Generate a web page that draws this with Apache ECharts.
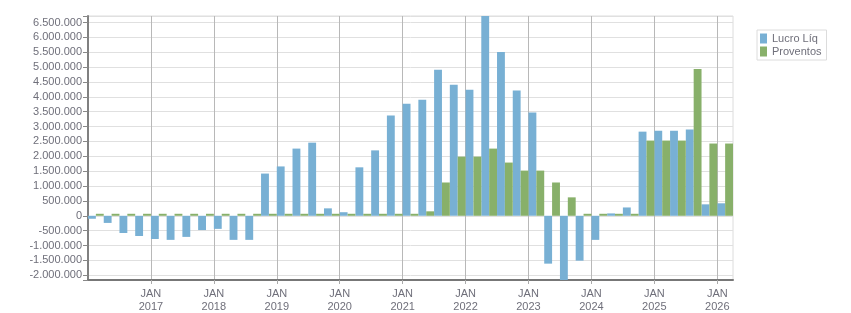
<!DOCTYPE html>
<html>
<head>
<meta charset="utf-8">
<title></title>
    <style>
        * {
            margin: 0;
            padding: 0;
        }
        #main {
            width: 851px;
            height: 313px;
        }
    </style>
</head>
<body>
<div id="main"></div>
<script src="https://cdn.jsdelivr.net/npm/echarts@6/dist/echarts.min.js"></script>
<script>
    // trimestres 2016 T1 .. 2026 T1
    var quarters = [
        '2016-01', '2016-04', '2016-07', '2016-10',
        '2017-01', '2017-04', '2017-07', '2017-10',
        '2018-01', '2018-04', '2018-07', '2018-10',
        '2019-01', '2019-04', '2019-07', '2019-10',
        '2020-01', '2020-04', '2020-07', '2020-10',
        '2021-01', '2021-04', '2021-07', '2021-10',
        '2022-01', '2022-04', '2022-07', '2022-10',
        '2023-01', '2023-04', '2023-07', '2023-10',
        '2024-01', '2024-04', '2024-07', '2024-10',
        '2025-01', '2025-04', '2025-07', '2025-10',
        '2026-01'
    ];
    var lucroLiq = [
        -100000, -240000, -580000, -680000,
        -780000, -810000, -710000, -480000,
        -440000, -810000, -810000, 1420000,
        1660000, 2260000, 2460000, 250000,
        120000, 1630000, 2200000, 3370000,
        3770000, 3900000, 4910000, 4410000,
        4240000, 6720000, 5510000, 4210000,
        3470000, -1610000, -2160000, -1510000,
        -810000, 80000, 280000, 2830000,
        2860000, 2860000, 2900000, 385000,
        420000
    ];
    var proventos = [
        0, 0, 0, 0,
        0, 0, 0, 0,
        0, 0, 0, 0,
        0, 0, 0, 0,
        0, 0, 0, 0,
        0, 150000, 1120000, 1990000,
        1990000, 2260000, 1790000, 1520000,
        1520000, 1120000, 620000, 0,
        0, 0, 0, 2530000,
        2530000, 2530000, 4940000, 2430000,
        2430000
    ];
    // rótulos do eixo x: um por ano, no início de janeiro
    var firstYear = 2016;

    function fmt(v) {
        var s = String(Math.abs(v)).replace(/\B(?=(\d{3})+(?!\d))/g, '.');
        return (v < 0 ? '-' : '') + s;
    }

    var labelFont = {
        color: '#6f6f7a',
        fontFamily: 'Liberation Sans',
        fontSize: 11
    };

    var myChart = echarts.init(document.getElementById('main'));
    var option = {
        animation: false,
        grid: {
            left: 88,
            right: 118,
            top: 16,
            bottom: 32,
            show: true,
            borderColor: '#dcdcdc',
            borderWidth: 1
        },
        legend: {
            orient: 'vertical',
            left: 757,
            top: 30,
            padding: [3, 5, 3, 3],
            itemGap: 2,
            itemWidth: 7,
            itemHeight: 10,
            icon: 'rect',
            borderColor: '#dcdcdc',
            borderWidth: 1,
            textStyle: {
                color: '#6f6f7a',
                fontFamily: 'Liberation Sans',
                fontSize: 11
            },
            data: ['Lucro Líq', 'Proventos']
        },
        xAxis: [
            {
                type: 'category',
                data: quarters,
                boundaryGap: true,
                axisLine: { onZero: false, lineStyle: { color: '#777', width: 2 } },
                axisTick: { show: false },
                axisLabel: { show: false },
                splitLine: { show: false }
            },
            {
                type: 'value',
                position: 'bottom',
                min: 0,
                max: quarters.length,
                interval: 4,
                axisLine: { show: false, onZero: false },
                axisTick: { show: true, length: 4, lineStyle: { color: '#aaa' } },
                axisLabel: Object.assign({
                    margin: 7,
                    lineHeight: 13,
                    showMinLabel: false,
                    showMaxLabel: false,
                    formatter: function(v) {
                        if (v % 4 !== 0) return '';
                        return 'JAN\n' + (firstYear + v / 4);
                    }
                }, labelFont),
                splitLine: {
                    show: true,
                    showMaxLine: false,
                    lineStyle: { color: '#b8b8b8', width: 1 }
                }
            }
        ],
        yAxis: {
            type: 'value',
            min: 'dataMin',
            max: 'dataMax',
            splitNumber: 18,
            axisLine: { show: true, lineStyle: { color: '#808080', width: 2 } },
            axisTick: { show: true, length: 5, lineStyle: { color: '#888' } },
            axisLabel: Object.assign({
                margin: 6,
                formatter: function(v) {
                    if (v % 500000 !== 0) return '';
                    return fmt(v);
                }
            }, labelFont),
            splitLine: { lineStyle: { color: '#e0e0e0', width: 1 } }
        },
        series: [
            {
                name: 'Lucro Líq',
                type: 'bar',
                xAxisIndex: 0,
                barGap: '0%',
                barCategoryGap: '0%',
                itemStyle: { color: '#78b0d4' },
                data: lucroLiq
            },
            {
                name: 'Proventos',
                type: 'bar',
                xAxisIndex: 0,
                barMinHeight: 2,
                itemStyle: { color: '#88b06a' },
                data: proventos
            }
        ]
    };
    myChart.setOption(option);
</script>
</body>
</html>
